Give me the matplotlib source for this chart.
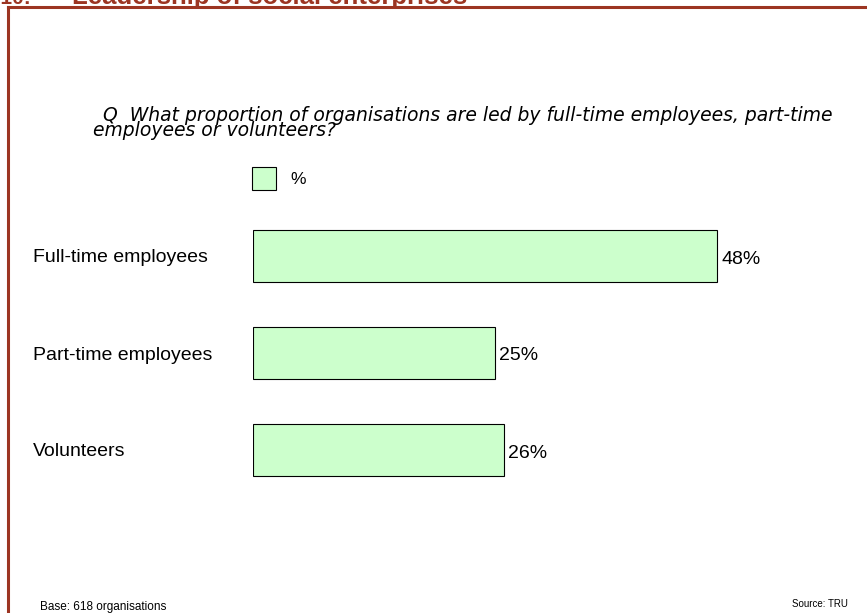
import matplotlib.pyplot as plt
from matplotlib.patches import Rectangle
from matplotlib.lines import Line2D

plt.rcParams['font.family'] = ['Liberation Sans', 'DejaVu Sans']

# survey results
categories = ["Full-time employees", "Part-time employees", "Volunteers"]
values = [48, 25, 26]
value_labels = ["48%", "25%", "26%"]

W, H = 867, 613
fig = plt.figure(figsize=(W / 100, H / 100), dpi=100)

def px(x, y):
    # pixel position (from top-left) -> figure fraction
    return x / W, 1 - y / H

red = "#9c3522"
green = "#ccffcc"

# section frame (top and left edges)
fig.add_artist(Line2D([8 / W, 1.0], [1 - 7 / H, 1 - 7 / H], color=red, lw=2.2,
                      transform=fig.transFigure))
fig.add_artist(Line2D([8 / W, 8 / W], [0.0, 1 - 7 / H], color=red, lw=2.2,
                      transform=fig.transFigure))

# section title, partly above the top edge
fig.text(*px(31, 4), "6.10:", color=red, fontsize=15, fontweight="bold",
         ha="right", va="baseline")
fig.text(*px(72, 4), "Leadership of social enterprises", color=red,
         fontsize=18.5, fontweight="bold", ha="left", va="baseline")

# question text
qfont = dict(family="DejaVu Sans", fontsize=13.5, style="italic",
             ha="left", va="baseline")
fig.text(*px(103, 121), "Q  What proportion of organisations are led by full-time employees, part-time",
         **qfont)
fig.text(*px(93, 136), "employees or volunteers?", **qfont)

# bar area: zero at x=253, 9.67 px per percent
left, right = 253, 253 + 60 * 9.67
top, bottom = 200, 500
ax = fig.add_axes([left / W, 1 - bottom / H, (right - left) / W, (bottom - top) / H])
ax.set_xlim(0, 60)
step = 97
ax.set_ylim((bottom - 256) / step, -(256 - top) / step)
ax.axis("off")

ypos = list(range(len(categories)))
bars = ax.barh(ypos, values, height=52 / step, color=green, edgecolor="black", linewidth=0.8)
for y, v, lab in zip(ypos, values, value_labels):
    ax.text(v + 0.4, y + 3 / step, lab, fontsize=14, ha="left", va="center")

# category labels
for y, cat in zip(ypos, categories):
    fig.text(*px(33, 258 + step * y), cat, fontsize=14, ha="left", va="center")

# legend key
fig.add_artist(Rectangle(px(252, 190), 24 / W, 23 / H, facecolor=green,
                         edgecolor="black", linewidth=0.8, transform=fig.transFigure))
fig.text(*px(290, 180), "%", fontsize=12.5, ha="left", va="center")

# footnotes
fig.text(*px(40, 607), "Base: 618 organisations", fontsize=8.5, ha="left", va="center")
fig.text(*px(848, 604), "Source: TRU", fontsize=7, ha="right", va="center")

fig.savefig("out.png", dpi=100)
